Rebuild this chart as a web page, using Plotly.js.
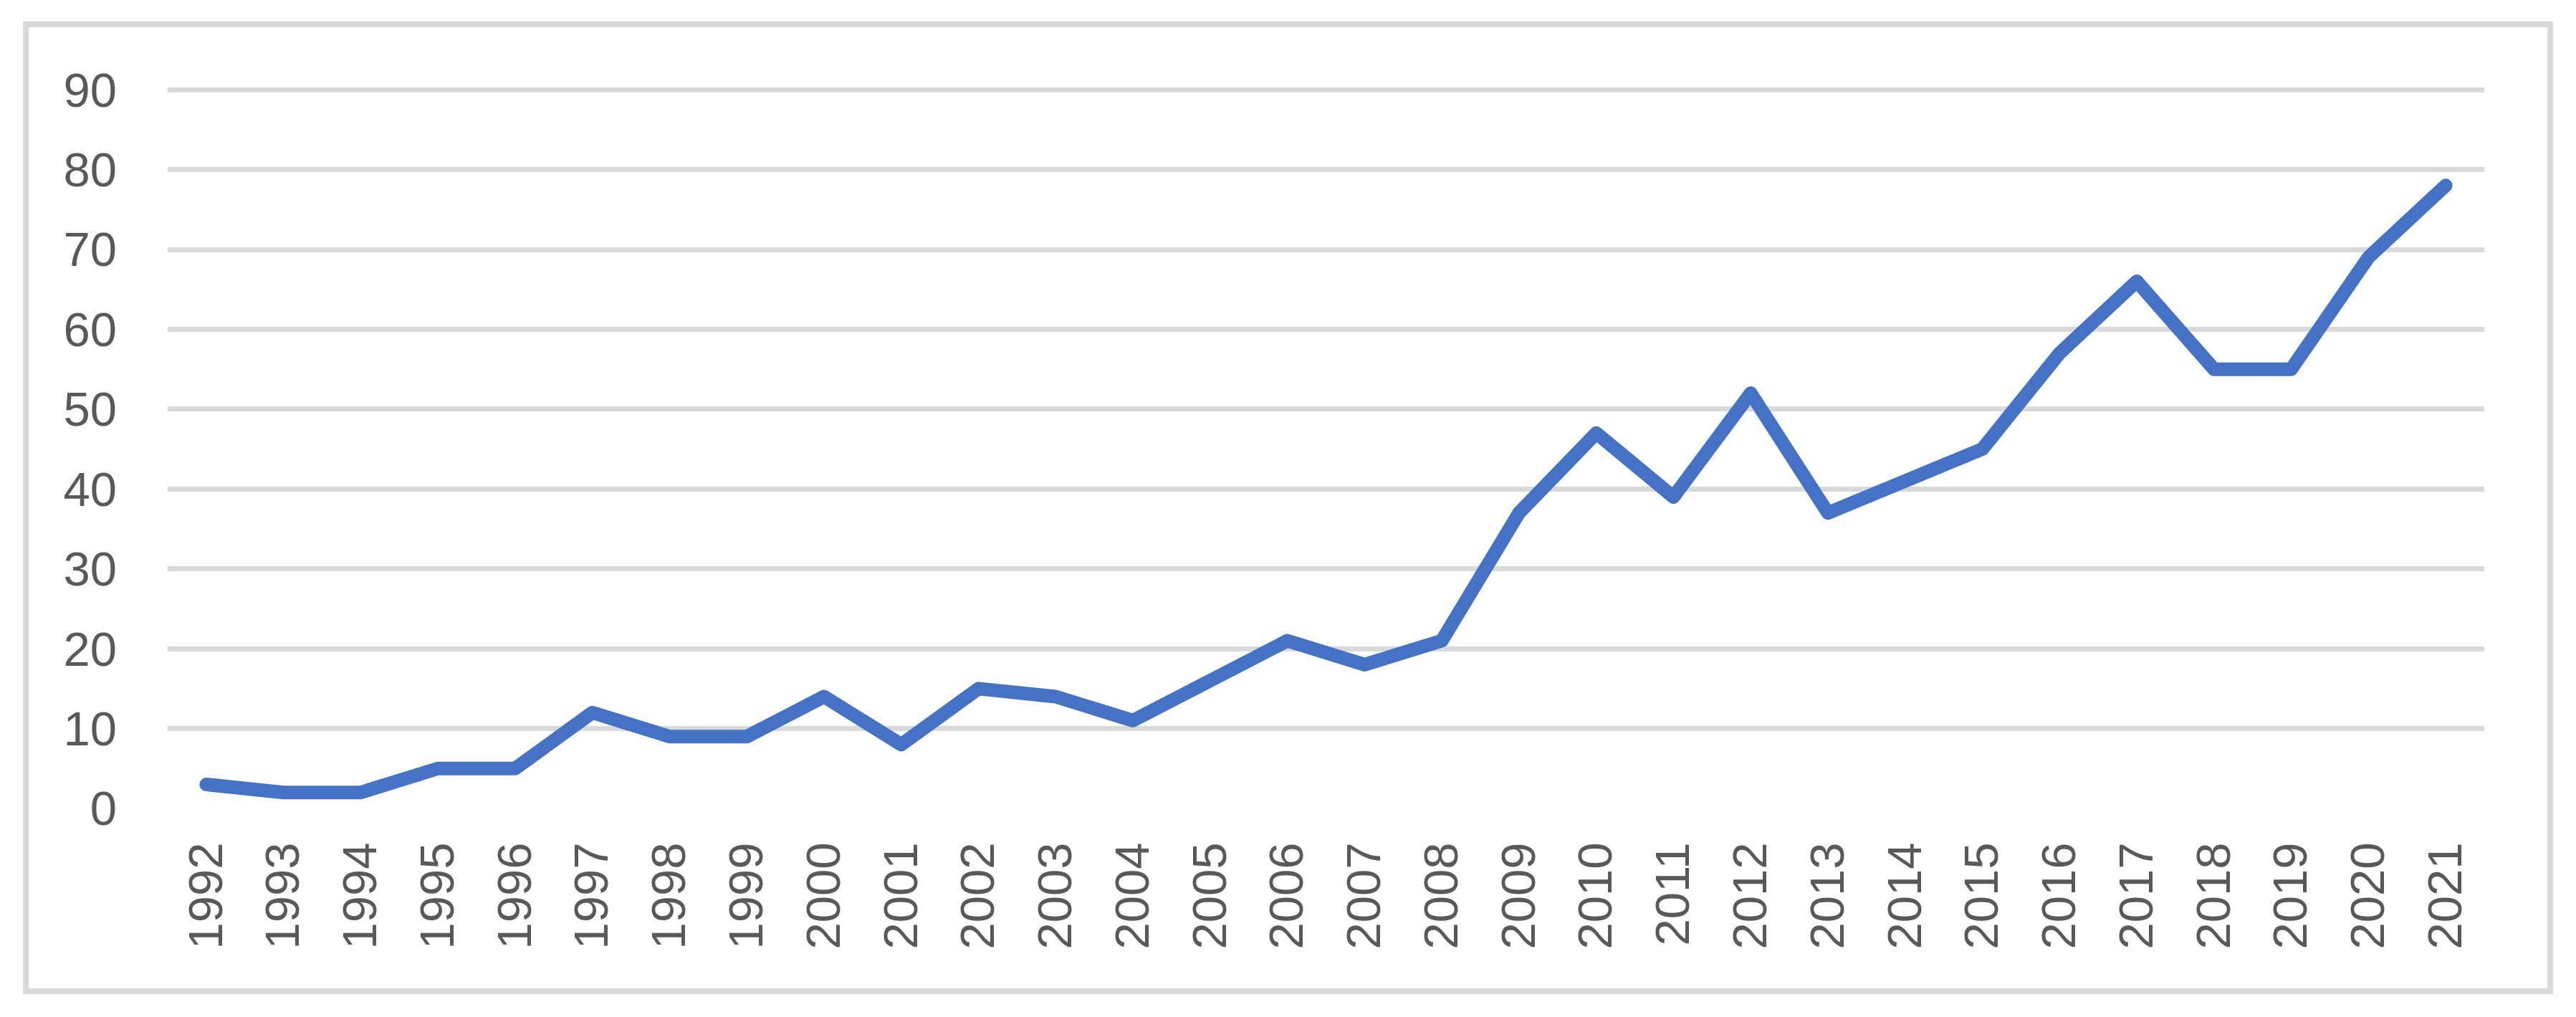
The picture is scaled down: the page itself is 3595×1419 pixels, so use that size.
<!DOCTYPE html>
<html>
<head>
<meta charset="utf-8">
<script src="https://cdn.plot.ly/plotly-3.0.1.min.js"></script>
<style>
  html, body { margin: 0; padding: 0; background: #ffffff; }
  #chart { width: 3595px; height: 1419px; }
</style>
</head>
<body>
<div id="chart"></div>
<script>
document.addEventListener("DOMContentLoaded", function (event) {

    // years on the category axis
    var years = ['1992', '1993', '1994', '1995', '1996', '1997', '1998', '1999', '2000', '2001',
      '2002', '2003', '2004', '2005', '2006', '2007', '2008', '2009', '2010', '2011',
      '2012', '2013', '2014', '2015', '2016', '2017', '2018', '2019', '2020', '2021'];

    // yearly counts
    var counts = [3, 2, 2, 5, 5, 12, 9, 9, 14, 8,
      15, 14, 11, 16, 21, 18, 21, 37, 47, 39,
      52, 37, 41, 45, 57, 66, 55, 55, 69, 78];

    var yTicks = [0, 10, 20, 30, 40, 50, 60, 70, 80, 90];

    var gris = '#D9D9D9';
    var textoGris = '#595959';

    var serie = [{
      x: years,
      y: counts,
      type: 'scatter',
      mode: 'lines',
      line: {
          color: '#4472C4',
          width: 19
      },
      cliponaxis: false,
      hoverinfo: 'x+y'
    }];

    var layout = {
      width: 3595,
      height: 1419,
      showlegend: false,
      font: {
          family: '"Liberation Sans", Arial, sans-serif',
          size: 67,
          color: textoGris
      },
      margin: {
          l: 234,
          r: 128,
          t: 114,
          b: 291
      },
      paper_bgcolor: '#ffffff',
      plot_bgcolor: '#ffffff',
      xaxis: {
          type: 'category',
          range: [-0.5, years.length - 0.5],
          tickangle: -90,
          showgrid: false,
          zeroline: false,
          showline: false,
          ticks: '',
          ticklabelstandoff: 33,
          fixedrange: true
      },
      yaxis: {
          range: [0, 91],
          tickvals: yTicks,
          ticktext: yTicks.map(String),
          showgrid: true,
          gridcolor: gris,
          gridwidth: 7,
          zeroline: false,
          showline: false,
          ticks: '',
          ticklabelstandoff: 70,
          fixedrange: true
      },
      shapes: [{
          type: 'rect',
          xref: 'paper',
          yref: 'paper',
          x0: -0.0612,
          x1: 1.0285,
          y0: -0.2515,
          y1: 1.0789,
          line: { color: gris, width: 8 },
          fillcolor: 'rgba(0,0,0,0)',
          layer: 'below'
      }]
    };

    Plotly.newPlot('chart', serie, layout, {
      displayModeBar: false,
      staticPlot: true
    }).then(function () {
      // round joins and caps like the original line
      document.querySelectorAll('.scatterlayer path.js-line').forEach(function (p) {
        p.style.strokeLinejoin = 'round';
        p.style.strokeLinecap = 'round';
      });
    });

});
</script>
</body>
</html>
